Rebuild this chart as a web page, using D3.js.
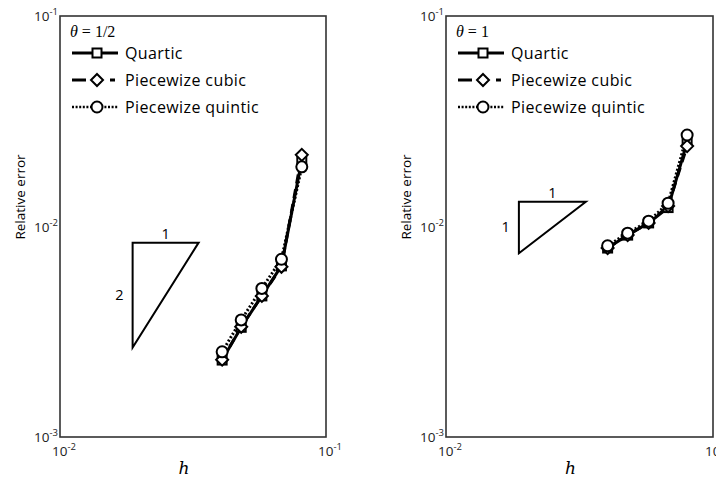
<!DOCTYPE html>
<html><head>
<meta charset="utf-8">
<style>
  body, html { margin: 0; padding: 0; background: #fff; }
  svg { display: block; font-family: 'Open Sans', 'Liberation Sans', sans-serif; }
  .frame { fill: none; stroke: #333; stroke-width: 1.6; }
  .tick { font-size: 13.5px; fill: #222; }
</style>
<script src="https://d3js.org/d3.v7.min.js"></script>
</head>
<body>
<svg id="chart" width="716" height="479"></svg>
<script>
// step sizes (shared by both panels)
const hLeft  = [0.0407, 0.0480, 0.0574, 0.0680, 0.0811];
const hRight = [0.0403, 0.0479, 0.0574, 0.0679, 0.0800];

// theta = 1/2
const quarticHalf   = [0.00232, 0.00332, 0.00468, 0.00650, 0.0207];
const cubicHalf     = [0.00233, 0.00334, 0.00468, 0.00644, 0.0219];
const quinticHalf   = [0.00254, 0.00360, 0.00508, 0.00699, 0.0192];

// theta = 1
const quarticOne    = [0.0079, 0.0091, 0.0104, 0.0123, 0.0252];
const cubicOne      = [0.0079, 0.0091, 0.0104, 0.0125, 0.0241];
const quinticOne    = [0.0081, 0.0093, 0.0106, 0.0129, 0.0272];

const seriesNames = ["Quartic", "Piecewize cubic", "Piecewize quintic"];
const xTicks = [1e-2, 1e-1];
const yTicks = [1e-3, 1e-2, 1e-1];

// slope triangles: x extent, y top/bottom, labels
const triHalf = { x: [0.01875, 0.0332], y: [0.00838, 0.00266], run: "1", rise: "2" };
const triOne  = { x: [0.01875, 0.0334], y: [0.01312, 0.00746], run: "1", rise: "1" };

const svg = d3.select("#chart");

const panels = [
  { left: 60, right: 326, title: "1/2", h: hLeft, ys: [quarticHalf, cubicHalf, quinticHalf], tri: triHalf },
  { left: 446, right: 713, title: "1", h: hRight, ys: [quarticOne, cubicOne, quinticOne], tri: triOne }
];
const plotTop = 16, plotBottom = 437;

const styles = [
  { dash: null, marker: "square" },
  { dash: "9,6", marker: "diamond" },
  { dash: "2,2", marker: "circle" }
];

function drawMarker(g, type, x, y) {
  if (type === "square") {
    g.append("rect").attr("x", x - 4.5).attr("y", y - 4.5).attr("width", 9).attr("height", 9)
      .attr("fill", "#fff").attr("stroke", "#000").attr("stroke-width", 2);
  } else if (type === "diamond") {
    g.append("path").attr("d", `M${x},${y - 6}L${x + 6},${y}L${x},${y + 6}L${x - 6},${y}Z`)
      .attr("fill", "#fff").attr("stroke", "#000").attr("stroke-width", 2);
  } else {
    g.append("circle").attr("cx", x).attr("cy", y).attr("r", 5.5)
      .attr("fill", "#fff").attr("stroke", "#000").attr("stroke-width", 2);
  }
}

function supLabel(g, x, y, exp, anchor) {
  const t = g.append("text").attr("class", "tick").attr("x", x).attr("y", y).attr("text-anchor", anchor);
  t.append("tspan").text("10");
  t.append("tspan").attr("dy", -6).attr("font-size", 9.5).text(exp);
}

panels.forEach(p => {
  const x = d3.scaleLog().domain([1e-2, 1e-1]).range([p.left, p.right]);
  const y = d3.scaleLog().domain([1e-3, 1e-1]).range([plotBottom, plotTop]);
  const g = svg.append("g");

  // series
  p.ys.forEach((vals, i) => {
    const pts = p.h.map((h, k) => [x(h), y(vals[k])]);
    g.append("path").attr("d", d3.line()(pts)).attr("fill", "none")
      .attr("stroke", "#000").attr("stroke-width", 3)
      .attr("stroke-dasharray", styles[i].dash);
  });
  p.ys.forEach((vals, i) => {
    p.h.forEach((h, k) => drawMarker(g, styles[i].marker, x(h), y(vals[k])));
  });

  // slope triangle
  const t = p.tri;
  g.append("path")
    .attr("d", `M${x(t.x[0])},${y(t.y[0])}L${x(t.x[1])},${y(t.y[0])}L${x(t.x[0])},${y(t.y[1])}Z`)
    .attr("fill", "none").attr("stroke", "#000").attr("stroke-width", 2);
  g.append("text").attr("x", (x(t.x[0]) + x(t.x[1])) / 2).attr("y", y(t.y[0]) - 4)
    .attr("text-anchor", "middle").attr("font-size", 14.5).text(t.run);
  g.append("text").attr("x", x(t.x[0]) - 9).attr("y", (y(t.y[0]) + y(t.y[1])) / 2 + 5)
    .attr("text-anchor", "end").attr("font-size", 14.5).text(t.rise);

  // frame
  g.append("rect").attr("class", "frame").attr("x", p.left).attr("y", plotTop)
    .attr("width", p.right - p.left).attr("height", plotBottom - plotTop);

  // tick labels
  yTicks.forEach(v => supLabel(g, p.left - 2, y(v) + 5, String(Math.round(Math.log10(v))), "end"));
  xTicks.forEach(v => supLabel(g, x(v) + 4, plotBottom + 19, String(Math.round(Math.log10(v))), "middle"));

  // axis titles
  g.append("text").attr("transform", `translate(${p.left - 35},197) rotate(-90)`)
    .attr("text-anchor", "middle").attr("font-size", 13.5).text("Relative error");
  g.append("text").attr("x", (p.left + p.right) / 2 - 9).attr("y", 474)
    .attr("text-anchor", "middle").attr("font-family", "'DejaVu Serif', serif")
    .attr("font-style", "italic").attr("font-size", 17).text("h");

  // legend
  const lx = p.left + 10;
  const title = g.append("text").attr("x", lx).attr("y", 37)
    .attr("font-family", "'Liberation Serif', serif").attr("font-size", 16);
  title.append("tspan").attr("font-style", "italic").text("θ");
  title.append("tspan").text(" = " + p.title);

  seriesNames.forEach((name, i) => {
    const ly = 53 + i * 27;
    const mx = lx + 27;
    if (i === 0) {
      g.append("line").attr("x1", lx + 2).attr("x2", lx + 48).attr("y1", ly).attr("y2", ly)
        .attr("stroke", "#000").attr("stroke-width", 3);
    } else if (i === 1) {
      [[lx + 2, lx + 16], [lx + 40, lx + 45]].forEach(s =>
        g.append("line").attr("x1", s[0]).attr("x2", s[1]).attr("y1", ly).attr("y2", ly)
          .attr("stroke", "#000").attr("stroke-width", 3));
    } else {
      g.append("line").attr("x1", lx + 2).attr("x2", lx + 48).attr("y1", ly).attr("y2", ly)
        .attr("stroke", "#000").attr("stroke-width", 2.5).attr("stroke-dasharray", "2,1.6");
    }
    drawMarker(g, styles[i].marker, mx, ly);
    g.append("text").attr("x", lx + 55).attr("y", ly + 6).attr("font-size", 16)
      .attr("letter-spacing", 0.4).text(name);
  });
});
</script>
</body></html>
